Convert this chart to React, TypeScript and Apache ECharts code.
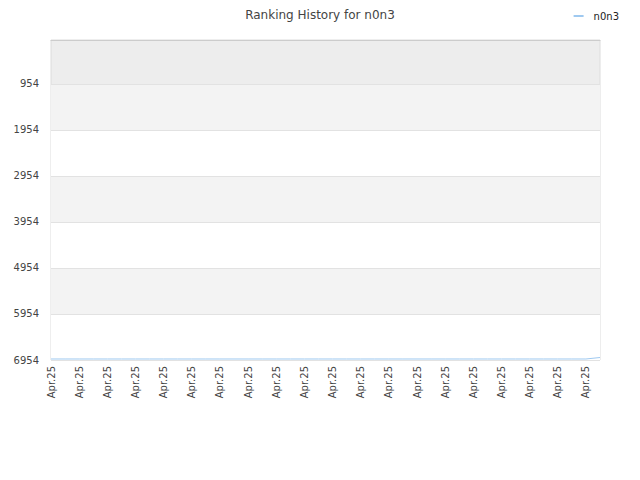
import {useEffect, useRef} from 'react';
import * as echarts from 'echarts';

// 40 daily samples, every other one labelled
const dates = Array(40).fill('Apr.25');
const ranks = [
    6932, 6932, 6932, 6932, 6932, 6932, 6932, 6932, 6932, 6932,
    6932, 6932, 6932, 6932, 6932, 6932, 6932, 6932, 6932, 6932,
    6932, 6932, 6932, 6932, 6932, 6932, 6932, 6932, 6932, 6932,
    6932, 6932, 6932, 6932, 6932, 6932, 6932, 6932, 6932, 6900,
];
const rankTicks = [954, 1954, 2954, 3954, 4954, 5954, 6954];

const FONT = 'DejaVu Sans';

const App = () => {
    const chartRef = useRef<HTMLDivElement>(null);

    useEffect(() => {
        const myChart = echarts.init(chartRef.current!, null, {renderer: 'svg'});

        myChart.setOption({
            animation: false,
            textStyle: {fontFamily: FONT},
            title: {
                text: 'Ranking History for n0n3',
                left: 'center',
                top: 4,
                textStyle: {fontSize: 12, fontWeight: 'normal', color: '#444', fontFamily: FONT},
            },
            legend: {
                right: 16,
                top: 6,
                itemWidth: 10,
                itemHeight: 2,
                icon: 'rect',
                textStyle: {fontSize: 10, color: '#222', fontFamily: FONT, padding: [0, 0, 0, 5]},
                data: ['n0n3'],
            },
            grid: {
                left: 51,
                right: 40,
                top: 40,
                bottom: 120,
                show: true,
                backgroundColor: '#ededed',
                borderColor: '#dcdcdc',
                borderWidth: 1,
            },
            xAxis: {
                type: 'category',
                data: dates,
                boundaryGap: false,
                axisLine: {show: true, lineStyle: {color: '#ccc'}},
                axisTick: {show: false},
                axisLabel: {
                    interval: 1,
                    rotate: 90,
                    fontSize: 10,
                    color: '#444',
                    margin: 6,
                    fontFamily: FONT,
                },
                splitLine: {show: false},
            },
            yAxis: {
                type: 'value',
                inverse: true,
                min: 0,
                max: 6954,
                axisLine: {show: false},
                axisTick: {show: false, customValues: rankTicks},
                axisLabel: {
                    customValues: rankTicks,
                    formatter: (v: number) => String(v),
                    fontSize: 10,
                    color: '#444',
                    margin: 12,
                    fontFamily: FONT,
                },
                splitLine: {show: true, lineStyle: {color: '#e2e2e2'}},
                splitArea: {show: true, areaStyle: {color: ['#f3f3f3', '#ffffff']}},
            },
            series: [
                {
                    name: 'n0n3',
                    type: 'line',
                    data: ranks,
                    symbol: 'none',
                    lineStyle: {width: 1, color: '#9fc9f0'},
                    itemStyle: {color: '#9fc9f0'},
                },
            ],
        });

        return () => {
            myChart.dispose();
        };
    }, []);

    return <div ref={chartRef} style={{width: '640px', height: '480px', margin: '-8px'}} />;
};

export default App;
